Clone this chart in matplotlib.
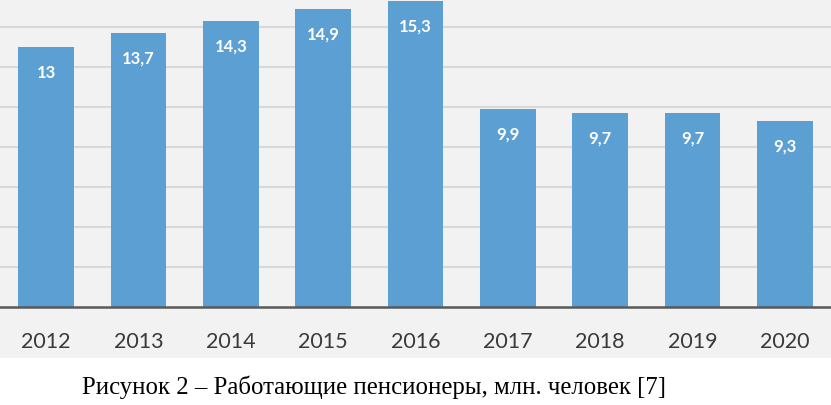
import matplotlib.pyplot as plt
from matplotlib.patches import Rectangle

years = ['2012', '2013', '2014', '2015', '2016', '2017', '2018', '2019', '2020']
workers = [13, 13.7, 14.3, 14.9, 15.3, 9.9, 9.7, 9.7, 9.3]
labels = ['13', '13,7', '14,3', '14,9', '15,3', '9,9', '9,7', '9,7', '9,3']
caption = 'Рисунок 2 – Работающие пенсионеры, млн. человек [7]'

fig = plt.figure(figsize=(8.31, 4.05), dpi=100)
fig.patch.set_facecolor('white')
# grey chart area (as pasted from Excel)
fig.patches.append(Rectangle((0, 47 / 405), 1, 1, transform=fig.transFigure,
                             facecolor='#f2f2f2', edgecolor='none', zorder=0))

ax = fig.add_axes([0.0, 98 / 405, 1.0, 307 / 405])
ax.set_facecolor('none')
ax.set_zorder(2)

x = range(len(years))
ax.bar(x, workers, width=0.6, color='#5b9fd3', zorder=3)
for i, v in enumerate(workers):
    ax.annotate(labels[i], (i, v), xytext=(0, -18.5), textcoords='offset points',
                ha='center', va='center', color='white', fontsize=12,
                fontweight='bold', family='Lato')

ax.set_xlim(-0.5, len(years) - 0.5)
ax.set_ylim(0, 15.35)
ax.set_yticks(range(2, 15, 2))
ax.yaxis.grid(True, color='#d9d9d9', lw=1.5, zorder=0)
ax.tick_params(axis='y', left=False, labelleft=False)
ax.set_xticks(list(x))
ax.set_xticklabels(years, fontsize=15.5, color='#3a3a3a', family='Lato')
ax.tick_params(axis='x', length=0, pad=18)
for s in ['top', 'left', 'right']:
    ax.spines[s].set_visible(False)
ax.spines['bottom'].set_color('#595959')
ax.spines['bottom'].set_linewidth(1.8)
ax.spines['bottom'].set_zorder(4)

fig.text(0.45, 18 / 405, caption, ha='center', va='center',
         fontsize=17.8, family='Liberation Serif', color='black')

plt.savefig('out.png', dpi=100)
